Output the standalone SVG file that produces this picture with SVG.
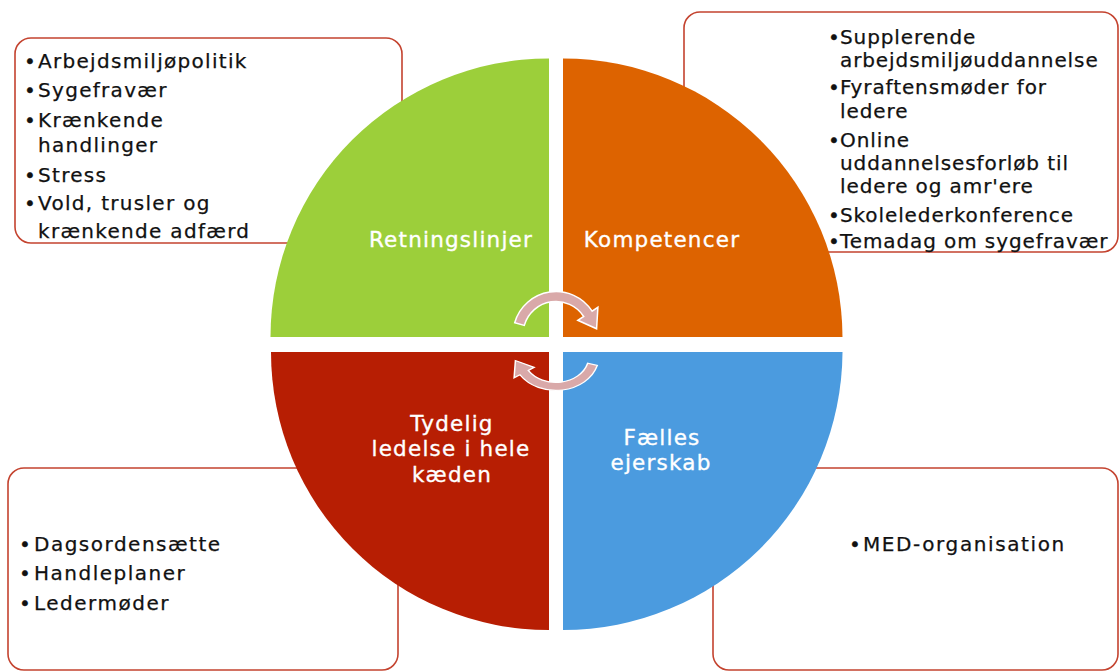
<svg xmlns="http://www.w3.org/2000/svg" width="1120" height="671" viewBox="0 0 1120 671">
<defs>
<style>
.box{fill:#fff;stroke:#C4432F;stroke-width:1.6}
.lst{font-family:"DejaVu Sans","Verdana",sans-serif;font-size:20px;fill:#111;stroke:#111;stroke-width:0.25px;letter-spacing:1.3px}
.lbl{font-family:"DejaVu Sans","Verdana",sans-serif;font-size:21.5px;fill:#fff;stroke:#fff;stroke-width:0.35px;letter-spacing:1.2px;text-anchor:middle}
.arr{fill:#D9A9A9;stroke:#fff;stroke-width:1.5}
</style>
<path id="carrow" d="M514.7,322.7 A43,43 0 0 1 592.1,311.1 L597.9,307.3 L596.6,328.8 L577.8,320.3 L583.7,316.5 A33,33 0 0 0 524.3,325.4 Z"/>
</defs>
<rect width="1120" height="671" fill="#fff"/>
<g id="box-retningslinjer">
<rect class="box" x="15" y="38" width="387" height="205" rx="16"/>
<text class="lst"><tspan x="24" y="68">•</tspan><tspan x="38" y="68">Arbejdsmiljøpolitik</tspan></text>
<text class="lst"><tspan x="24" y="97">•</tspan><tspan x="38" y="97">Sygefravær</tspan></text>
<text class="lst"><tspan x="24" y="127">•</tspan><tspan x="38" y="127">Krænkende</tspan><tspan x="38" y="152">handlinger</tspan></text>
<text class="lst"><tspan x="24" y="182">•</tspan><tspan x="38" y="182">Stress</tspan></text>
<text class="lst"><tspan x="24" y="210">•</tspan><tspan x="38" y="210">Vold, trusler og</tspan><tspan x="38" y="238">krænkende adfærd</tspan></text>
</g>
<g id="box-kompetencer">
<rect class="box" x="684" y="12" width="434" height="240" rx="16"/>
<text class="lst" style="letter-spacing:0.9px"><tspan x="828" y="44">•</tspan><tspan x="840" y="44">Supplerende</tspan><tspan x="840" y="67">arbejdsmiljøuddannelse</tspan></text>
<text class="lst" style="letter-spacing:0.9px"><tspan x="828" y="94">•</tspan><tspan x="840" y="94">Fyraftensmøder for</tspan><tspan x="840" y="118">ledere</tspan></text>
<text class="lst" style="letter-spacing:0.9px"><tspan x="828" y="147">•</tspan><tspan x="840" y="147">Online</tspan><tspan x="840" y="170">uddannelsesforløb til</tspan><tspan x="840" y="193">ledere og amr'ere</tspan></text>
<text class="lst" style="letter-spacing:0.9px"><tspan x="828" y="222">•</tspan><tspan x="840" y="222">Skolelederkonference</tspan></text>
<text class="lst" style="letter-spacing:0.9px"><tspan x="828" y="248">•</tspan><tspan x="840" y="248">Temadag om sygefravær</tspan></text>
</g>
<g id="box-ledelse">
<rect class="box" x="8" y="468" width="390" height="202" rx="16"/>
<text class="lst" style="letter-spacing:1.5px"><tspan x="19" y="551">•</tspan><tspan x="34" y="551">Dagsordensætte</tspan></text>
<text class="lst" style="letter-spacing:1.5px"><tspan x="19" y="580">•</tspan><tspan x="34" y="580">Handleplaner</tspan></text>
<text class="lst" style="letter-spacing:1.5px"><tspan x="19" y="610">•</tspan><tspan x="34" y="610">Ledermøder</tspan></text>
</g>
<g id="box-ejerskab">
<rect class="box" x="713" y="468" width="405" height="202" rx="16"/>
<text class="lst" style="letter-spacing:1.6px"><tspan x="849" y="551">•</tspan><tspan x="863" y="551">MED-organisation</tspan></text>
</g>
<g id="q-retningslinjer">
<path d="M549,337 V58.5 A278.5,278.5 0 0 0 270.5,337 Z" fill="#9CCF3A"/>
<text class="lbl" x="451" y="247">Retningslinjer</text>
</g>
<g id="q-kompetencer">
<path d="M563,337 V58.5 A279.5,279.5 0 0 1 842.5,337 Z" fill="#DD6300"/>
<text class="lbl" x="662" y="247">Kompetencer</text>
</g>
<g id="q-ledelse">
<path d="M549,352 H271 A278,278 0 0 0 549,630 Z" fill="#B71E03"/>
<text class="lbl"><tspan x="452" y="431">Tydelig</tspan><tspan x="451" y="456">ledelse i hele</tspan><tspan x="452" y="482">kæden</tspan></text>
</g>
<g id="q-ejerskab">
<path d="M563,352 H842.5 A279.5,279.5 0 0 1 563,630 Z" fill="#4B9BDF"/>
<text class="lbl"><tspan x="662" y="445">Fælles</tspan><tspan x="661" y="470">ejerskab</tspan></text>
</g>
<g id="connectors">
<use href="#carrow" class="arr"/>
<use href="#carrow" class="arr" transform="translate(0,72.4) scale(1,0.8) rotate(180 556 344.5)"/>
</g>
</svg>
